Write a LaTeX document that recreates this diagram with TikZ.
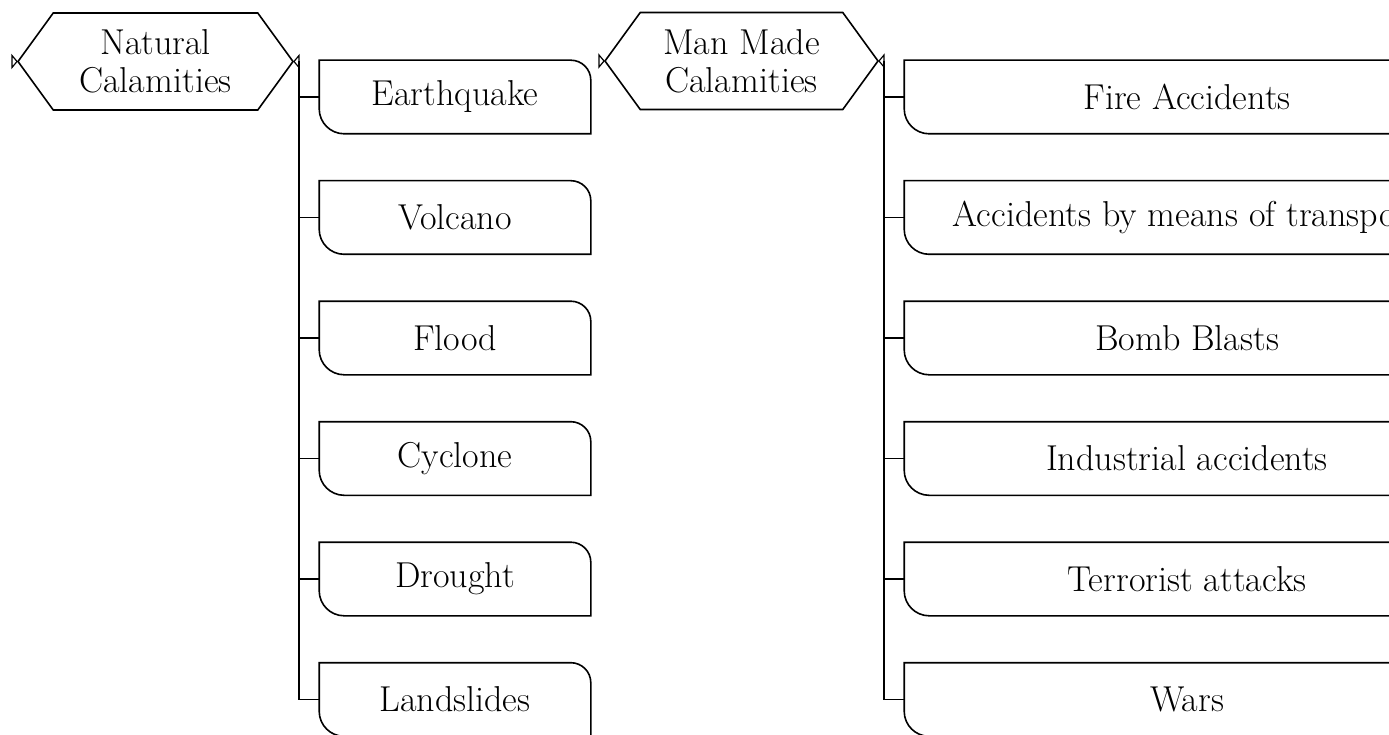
\documentclass[tikz,border=0pt]{standalone}
\usetikzlibrary{shapes.symbols}
\newcommand{\caltext}{\fontsize{36}{38}\selectfont}
\begin{document}
\begin{tikzpicture}[x=1pt,y=-1pt,line width=1.6pt,
  calhex/.style={signal,signal to=west and east,signal pointer angle=108,
    draw,align=center,inner sep=0pt,minimum height=97pt,font=\caltext},
  calbox/.style={inner sep=0pt,minimum height=72pt,font=\caltext},
  tipmark/.style={line width=1.2pt}]
\useasboundingbox (0,0) rectangle (1389,735);
\clip (0,0) rectangle (1389,735);
%%%CATEGORIES
\node[calhex,minimum width=275pt] (nat) at (155.5,61.5) {Natural\\Calamities};
\node[calhex,minimum width=273pt] (man) at (741.5,61) {Man Made\\Calamities};
\foreach \h in {nat,man} {
  \draw[tipmark] (\h.west) -- ++(-5,-6) -- ++(0,12) -- cycle;
  \draw[tipmark] (\h.east) -- ++(5,-6) -- ++(0,12) -- cycle;
}
\path (nat.east) ++(5,0) coordinate (nt);
\path (man.east) ++(5,0) coordinate (mt);
%%%KINDS
\foreach \t [count=\i from 0] in {Earthquake,Volcano,Flood,Cyclone,Drought,Landslides}
  \node[calbox,minimum width=270pt] (nat\i) at (455,97+120.5*\i) {\t};
\foreach \t [count=\i from 0] in {Fire Accidents,Accidents by means of transport,Bomb Blasts,Industrial accidents,Terrorist attacks,Wars}
  \node[calbox,minimum width=564pt] (man\i) at (1187,97+120.5*\i) {\t};
%%%OUTLINES AND BRANCHES
\foreach \h/\c in {nat/nt,man/mt}
  \foreach \i in {0,...,5} {
    \draw (\h\i.south east) [rounded corners=20pt] -- (\h\i.north east) [sharp corners]
      -- (\h\i.north west) [rounded corners=25pt] -- (\h\i.south west) [sharp corners] -- cycle;
    \draw (\c) |- (\h\i.west);
  }
\end{tikzpicture}
\end{document}
